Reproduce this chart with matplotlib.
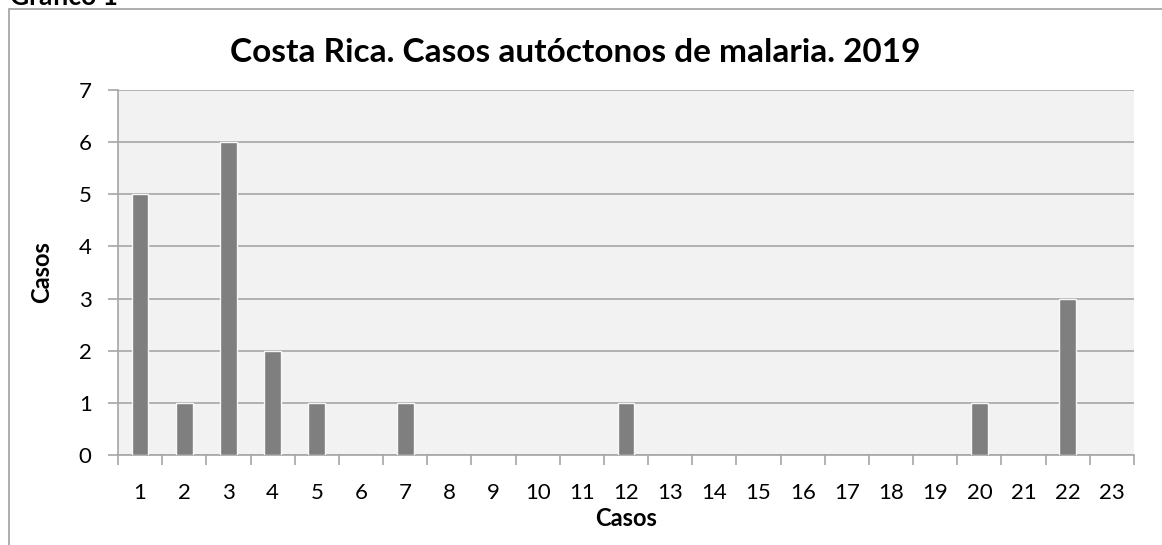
import matplotlib.pyplot as plt
from matplotlib.patches import Rectangle

# data
weeks = list(range(1, 24))
cases = [5, 1, 6, 2, 1, 0, 1, 0, 0, 0, 0, 1, 0, 0, 0, 0, 0, 0, 0, 1, 0, 3, 0]
title = "Costa Rica. Casos autóctonos de malaria. 2019"
y_ticks = [0, 1, 2, 3, 4, 5, 6, 7]

plt.rcParams['font.family'] = ['Lato', 'DejaVu Sans']

W, H = 1162, 545
fig = plt.figure(figsize=(W / 100, H / 100), dpi=100)

# chart frame (cut off at right and bottom)
fig.add_artist(Rectangle((9 / W, -0.1), 2, 1.1 - 9 / H, transform=fig.transFigure,
                         fill=False, ec='#a0a0a0', lw=1.2))
fig.text(10 / W, 1 - 5 / H, "Gráfico 1", fontsize=19, fontweight='bold', va='baseline')

ax = fig.add_axes([118 / W, 1 - 455 / H, (1134 - 118) / W, (455 - 90) / H])
ax.set_facecolor('#f2f2f2')
edges = ['#f8f8f8' if c > 0 else 'none' for c in cases]
ax.bar(weeks, cases, width=0.38, color='#7f7f7f', edgecolor=edges, lw=1.0, zorder=3)

ax.set_xlim(0.5, 23.5)
ax.set_ylim(0, 7)
ax.set_yticks(y_ticks)
ax.grid(axis='y', color='#a6a6a6', lw=1.2, zorder=1)
ax.set_axisbelow(True)

ax.set_xticks(weeks)
ax.set_xticks([w - 0.5 for w in weeks] + [23.5], minor=True)
ax.tick_params(axis='x', which='major', length=0, pad=20, labelsize=16)
ax.tick_params(axis='x', which='minor', length=7, color='#a6a6a6', width=1.2, direction='out')
ax.tick_params(axis='y', length=7, color='#a6a6a6', width=1.2, pad=12, labelsize=16)

for s in ['top', 'right']:
    ax.spines[s].set_visible(False)
for s in ['left', 'bottom']:
    ax.spines[s].set_color('#a6a6a6')
    ax.spines[s].set_linewidth(1.2)

fig.text(575 / W, 1 - 52 / H, title, fontsize=24, fontweight='bold', ha='center', va='center')
ax.set_xlabel("Casos", fontsize=17, fontweight='bold', labelpad=3)
ax.set_ylabel("Casos", fontsize=17, fontweight='bold', labelpad=18)

fig.savefig('out.png', dpi=100)
